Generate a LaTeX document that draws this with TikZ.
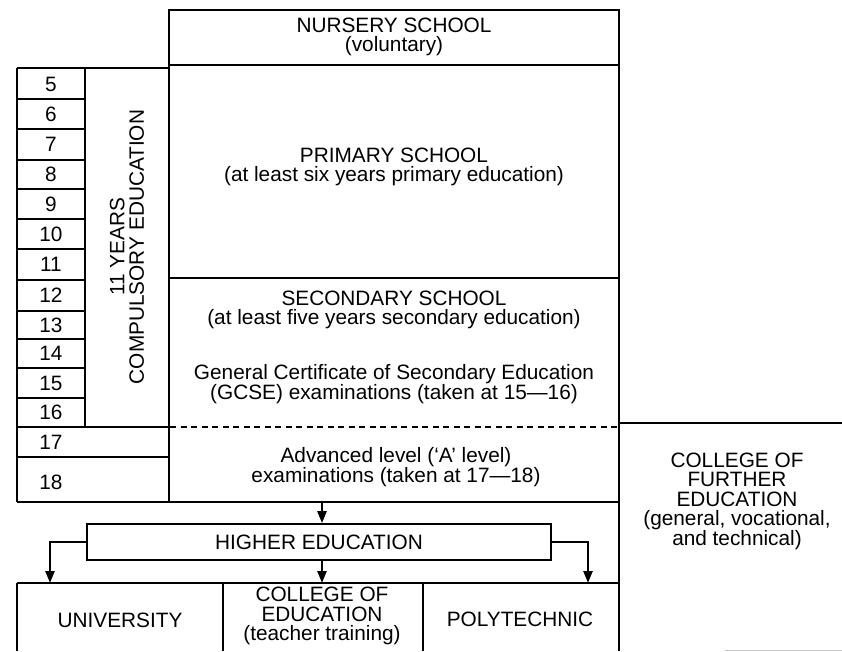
\documentclass[tikz,border=0pt]{standalone}
\usepackage{fontspec}
\setmainfont{Liberation Sans}
\usetikzlibrary{arrows.meta}
\begin{document}
\begin{tikzpicture}[x=1pt,y=-1pt,line width=1.7pt,
  lbl/.style={font=\fontsize{20.8}{19.5}\selectfont, align=center, inner sep=0pt},
  arr/.style={line width=2.4pt, -{Triangle[length=12pt,width=9pt]}},
  dashline/.style={dash pattern=on 6pt off 4.5pt}]
\useasboundingbox (0,0) rectangle (842,651);
% main column
\draw (169,10) rectangle (619,65);
\draw (169,65) -- (169,502);
\draw (619,10) -- (619,651);
\draw (169,278) -- (619,278);
\draw (17,502) -- (619,502);
\draw[dashline] (170,427) -- (619,427);
\draw (619,423) -- (842,423);
% age table
\draw (17,68) -- (169,68);
\draw (17,68) -- (17,502);
\draw (85,68) -- (85,427);
\foreach \yy in {99,129,160,189,219,249,280,311,339,368,398}
  \draw (17,\yy) -- (85,\yy);
\draw (17,427) -- (169,427);
\draw (17,457) -- (169,457);
\node[lbl] (a5)  at (51,84)  {5};
\node[lbl] (a6)  at (51,114) {6};
\node[lbl] (a7)  at (51,144.5) {7};
\node[lbl] (a8)  at (51,174.5) {8};
\node[lbl] (a9)  at (51,204) {9};
\node[lbl] (a10) at (51,234) {10};
\node[lbl] (a11) at (51,264.5) {11};
\node[lbl] (a12) at (51,295.5) {12};
\node[lbl] (a13) at (51,325) {13};
\node[lbl] (a14) at (51,353.5) {14};
\node[lbl] (a15) at (51,383) {15};
\node[lbl] (a16) at (51,412.5) {16};
\node[lbl] (a17) at (51,442) {17};
\node[lbl] (a18) at (51,482) {18};
\node[lbl, rotate=90] (comp) at (127,247) {11 YEARS\\COMPULSORY EDUCATION};
% main texts
\node[lbl] (nursery) at (394,37) {NURSERY SCHOOL\\(voluntary)};
\node[lbl] (primary) at (394,167) {PRIMARY SCHOOL\\(at least six years primary education)};
\node[lbl] (secondary) at (394,310) {SECONDARY SCHOOL\\(at least five years secondary education)};
\node[lbl] (gcse) at (394,384) {General Certificate of Secondary Education\\(GCSE) examinations (taken at 15---16)};
\node[lbl] (alevel) at (396,467) {Advanced level (`A' level)\\examinations (taken at 17---18)};
\node[lbl] (cfe) at (737,501) {COLLEGE OF\\FURTHER\\EDUCATION\\(general, vocational,\\and technical)};
% higher education
\node[lbl, draw, line width=1.7pt, minimum width=464pt, minimum height=36pt] (he) at (319,542) {HIGHER EDUCATION};
\coordinate (secb) at (322,502);
\coordinate (coltop) at (322,583);
\coordinate (unitop) at (50,583);
\coordinate (polytop) at (588,583);
\draw[arr] (secb) -- (secb |- he.north);
\draw[arr] (he.south -| coltop) -- (coltop);
\draw[arr] (he.west) -| (unitop);
\draw[arr] (he.east) -| (polytop);
% bottom row
\draw (17,583) -- (619,583);
\draw (17,583) -- (17,651);
\draw (223,583) -- (223,651);
\draw (423,583) -- (423,651);
\node[lbl] (univ) at (120,620) {UNIVERSITY};
\node[lbl] (coled) at (322,616) {COLLEGE OF\\EDUCATION\\(teacher training)};
\node[lbl] (poly) at (520,619) {POLYTECHNIC};
\draw[gray!45, line width=0.8pt] (725,650) -- (842,650);
\end{tikzpicture}
\end{document}
